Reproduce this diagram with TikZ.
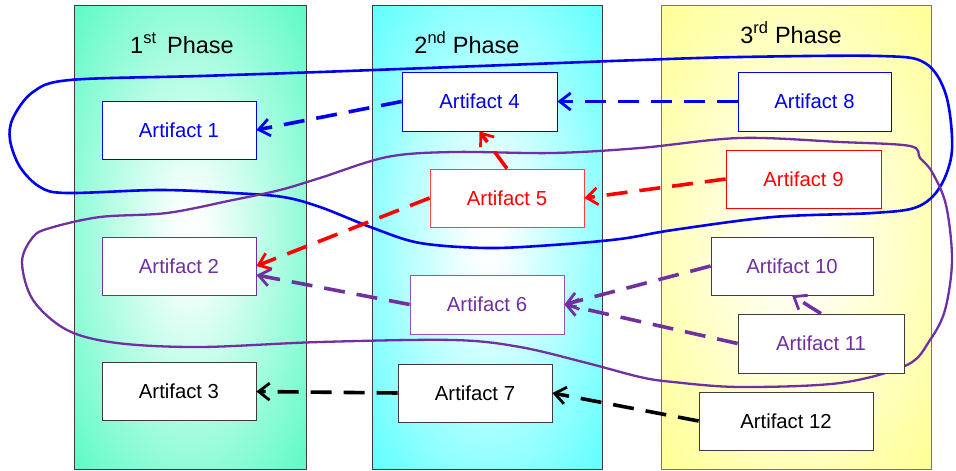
\documentclass[tikz,border=0pt]{standalone}
\usepackage{fontspec}
\setmainfont{Liberation Sans}
\usetikzlibrary{arrows.meta}

\definecolor{mintc}{RGB}{100,250,200}
\definecolor{cyanc}{RGB}{102,255,255}
\definecolor{yellc}{RGB}{255,255,153}
\definecolor{bluec}{RGB}{0,0,240}
\definecolor{redc}{RGB}{255,0,0}
\definecolor{purpc}{RGB}{112,48,160}
\definecolor{edgec}{RGB}{60,60,60}
\definecolor{oliveedge}{RGB}{120,120,90}

% soft white glow in the middle of each phase column
\pgfdeclareradialshading{glowmint}{\pgfpoint{0bp}{0bp}}{color(0bp)=(white); color(4bp)=(white!95!mintc); color(34bp)=(mintc); color(50bp)=(mintc)}
\pgfdeclareradialshading{glowcyan}{\pgfpoint{0bp}{0bp}}{color(0bp)=(white); color(4bp)=(white!95!cyanc); color(34bp)=(cyanc); color(50bp)=(cyanc)}
\pgfdeclareradialshading{glowyell}{\pgfpoint{0bp}{0bp}}{color(0bp)=(white); color(4bp)=(white!95!yellc); color(34bp)=(yellc); color(50bp)=(yellc)}

\tikzset{
  phasecol/.style={draw=#1, line width=1pt},
  phasetitle/.style={anchor=base, font=\fontsize{23.5}{28}\selectfont},
  art/.style={draw=#1, fill=white, line width=0.8pt, minimum height=58pt, inner sep=0pt,
              font=\fontsize{20.3}{24}\selectfont},
  link/.style={line width=3.6pt, dash pattern=on 21pt off 12pt,
               -{Straight Barb[length=11pt,width=17pt,line width=2.8pt]}},
  loopline/.style={line width=#1, line join=round}
}

\begin{document}
\begin{tikzpicture}[x=1pt,y=-1pt]
\useasboundingbox (0,0) rectangle (956,471);
\fill[white] (0,0) rectangle (956,471);

% phase columns
\path[phasecol=edgec, shading=glowmint] (74,5) rectangle (306,469);
\path[phasecol=edgec, shading=glowcyan] (372,5) rectangle (602,469);
\path[phasecol=oliveedge, shading=glowyell] (661,5) rectangle (931,469);

\node[phasetitle] (t1) at (182,53) {1\textsuperscript{st}\hspace{0.45em}Phase};
\node[phasetitle] (t2) at (467,53) {2\textsuperscript{nd} Phase};
\node[phasetitle] (t3) at (791,43) {3\textsuperscript{rd} Phase};

% free-hand grouping loops
\draw[bluec, loopline=2.6pt] plot[smooth cycle, tension=0.55] coordinates {
  (70,80) (200,76) (320,72) (480,66) (640,60) (740,57) (880,56) (925,63)
  (946,95) (952,150) (940,187) (917,207) (873,213) (773,217) (673,230)
  (620,239) (553,245) (487,248) (420,243) (373,228) (320,207) (283,197)
  (233,193) (160,190) (67,193) (40,187) (20,167) (10,140) (13,118) (33,92)};
\draw[purpc, loopline=2.3pt] plot[smooth cycle, tension=0.55] coordinates {
  (33,237) (50,228) (100,217) (167,213) (233,200) (280,190) (320,178)
  (387,157) (453,152) (553,153) (640,148) (740,138) (840,142) (910,146)
  (920,158) (932,172) (946,205) (952,260) (945,310) (930,340) (907,365)
  (840,383) (740,387) (673,382) (640,377) (587,363) (520,347) (453,340)
  (320,342) (200,347) (117,343) (67,330) (33,300) (22,262)};

% artifacts
\node[art=bluec, text=bluec, minimum width=154pt] (a1) at (179,130) {Artifact 1};
\node[art=purpc, text=purpc, minimum width=154pt] (a2) at (179,266) {Artifact 2};
\node[art=edgec, text=black, minimum width=154pt] (a3) at (179,391.5) {Artifact 3};
\node[art=bluec, text=bluec, minimum width=155pt, minimum height=59pt] (a4) at (479.5,101.5) {Artifact 4};
\node[art=redc!75, text=redc, minimum width=154pt] (a5) at (507,198) {Artifact 5};
\node[art=purpc!80, text=purpc, minimum width=154pt, minimum height=59pt] (a6) at (487,304.5) {Artifact 6};
\node[art=edgec, text=black, minimum width=154pt] (a7) at (475,393) {Artifact 7};
\node[art=bluec, text=bluec, minimum width=153pt, minimum height=59pt] (a8) at (814.5,101.5) {Artifact 8};
\node[art=redc, text=redc, minimum width=155pt] (a9) at (803.5,179) {Artifact 9};
\node[art=edgec, text=purpc, minimum width=162pt] (a10) at (792,266) {Artifact 10};
\node[art=edgec, text=purpc, minimum width=166pt, minimum height=59pt] (a11) at (821,343.5) {Artifact 11};
\node[art=edgec, text=black, minimum width=174pt] (a12) at (786,421) {Artifact 12};

% dependencies
\draw[link, bluec] (a8.west) -- (a4.east);
\draw[link, bluec] (a4.west) -- (a1.east);
\draw[link, redc] (a5.north) -- (a4.south);
\draw[link, redc] (a9.west) -- (a5.east);
\draw[link, redc] (a5.west) -- (a2.east);
\draw[link, purpc] (a6.west) -- ([yshift=-9pt]a2.east);
\draw[link, purpc] (a10.west) -- (a6.east);
\draw[link, purpc] (a11.west) -- (a6.east);
\draw[link, purpc] (a11.north) -- (a10.south);
\draw[link, black] (a7.west) -- (a3.east);
\draw[link, black] (a12.west) -- (a7.east);
\end{tikzpicture}
\end{document}
